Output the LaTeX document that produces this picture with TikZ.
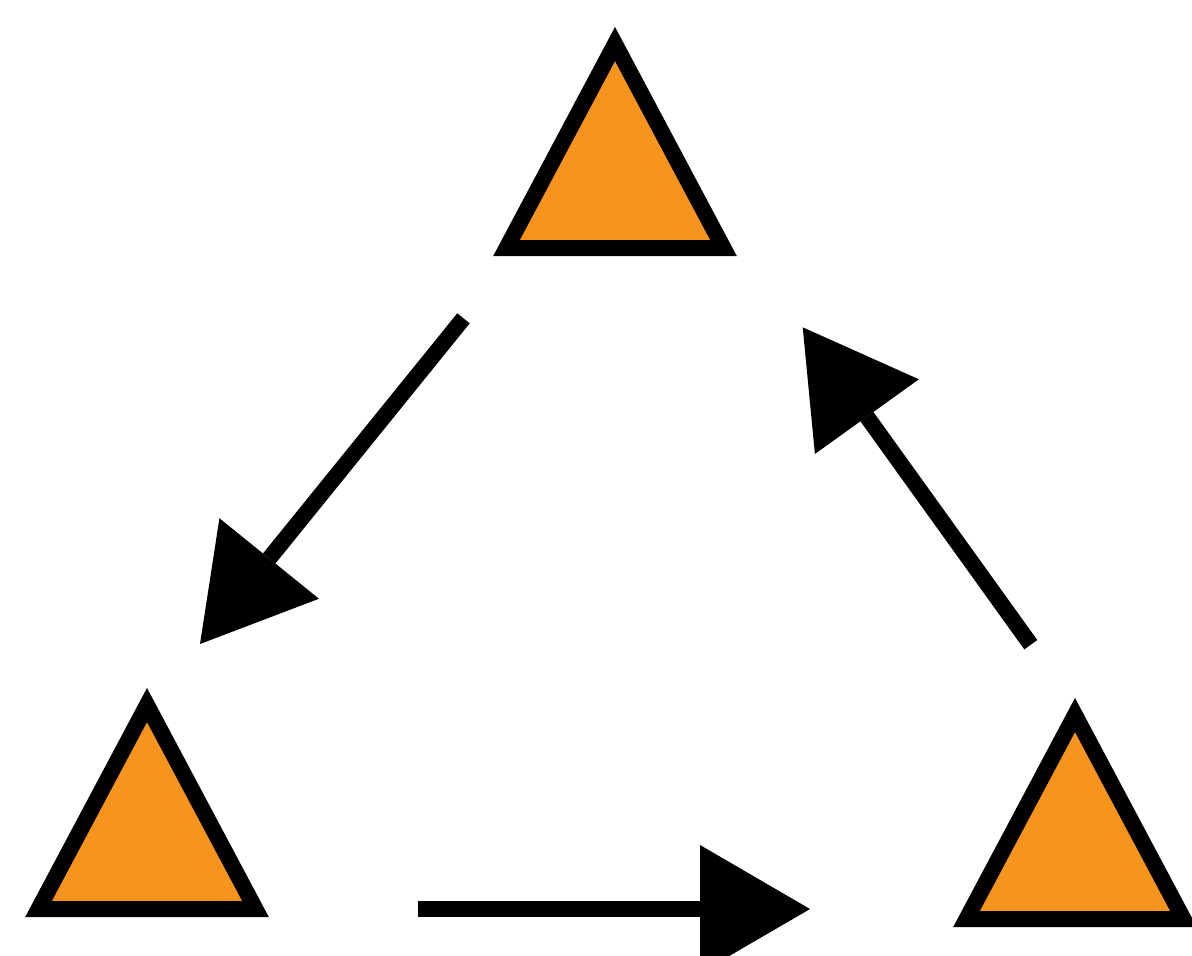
\documentclass[tikz,border=0pt]{standalone}
\usetikzlibrary{arrows.meta,calc}
\definecolor{triorange}{RGB}{247,148,30}
\begin{document}
\begin{tikzpicture}[x=1pt,y=-1pt,
  tri/.style={draw=black,fill=triorange,line width=16pt,line join=miter},
  conn/.style={draw=black,line width=16pt,line cap=butt,
    -{Triangle[length=110pt,width=128pt,line width=0pt]}}]
\useasboundingbox (0,0) rectangle (1192,956);
\clip (0,0) rectangle (1192,956);
% triangle nodes (base midpoints)
\coordinate (top) at (615,248);
\coordinate (bl) at (147,909);
\coordinate (br) at (1075,919);
\foreach \c in {top,bl,br}
  \draw[tri] ($(\c)+(-108.5,0)$) -- ($(\c)+(108.5,0)$) -- ($(\c)+(0,-204)$) -- cycle;
% connector ends
\coordinate (a1s) at (463.5,318.3);
\coordinate (a1e) at (200,644);
\coordinate (a2s) at (418.3,909);
\coordinate (a2e) at (810,909);
\coordinate (a3s) at (1030.8,644.7);
\coordinate (a3e) at (802.7,327.3);
\draw[conn] (a1s) -- (a1e);
\draw[conn] (a2s) -- (a2e);
\draw[conn] (a3s) -- (a3e);
\end{tikzpicture}
\end{document}
